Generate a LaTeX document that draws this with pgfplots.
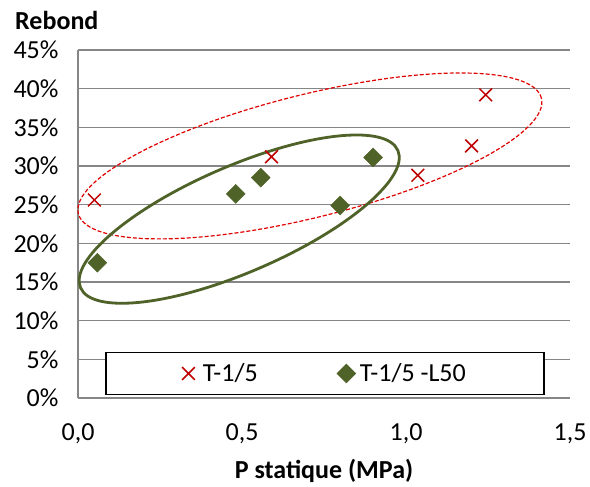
\documentclass[border=0pt]{standalone}
\usepackage{fontspec}
\setmainfont{Carlito}
\usepackage{pgfplots}
\pgfplotsset{compat=1.18}
\definecolor{gridgray}{HTML}{868686}
\definecolor{xred}{HTML}{C00000}
\definecolor{olivegreen}{HTML}{4F6228}
\definecolor{dashred}{HTML}{E00000}
\newcommand{\chartfont}{\fontsize{26bp}{31bp}\selectfont}
\begin{document}
\begin{tikzpicture}
\useasboundingbox (0,0) rectangle (590bp,487bp);
\begin{axis}[
  at={(78bp,89bp)}, anchor=south west,
  scale only axis, width=492bp, height=348bp,
  xmin=0, xmax=1.5, ymin=0, ymax=45,
  xtick={0,0.5,1,1.5}, ytick={0,5,...,45},
  axis lines=left,
  axis line style={gridgray, line width=1.2bp, -},
  ymajorgrids, grid style={gridgray, line width=1.2bp},
  major tick length=0,
  clip=false,
  /pgf/number format/assume math mode=true,
  xticklabel style={font=\chartfont, yshift=-22bp, /pgf/number format/.cd, use comma, fixed, fixed zerofill, precision=1},
  yticklabel style={font=\chartfont, xshift=-16bp},
  yticklabel={\pgfmathprintnumber{\tick}\%},
  xlabel={\textbf{P statique (MPa)}},
  ylabel={\textbf{Rebond}},
  every axis x label/.style={at={(rel axis cs:0.5,0)}, anchor=base, yshift=-80bp, inner sep=0pt, font=\chartfont},
  every axis y label/.style={at={(rel axis cs:0,1)}, anchor=base west, xshift=-63bp, yshift=20bp, inner sep=0pt, font=\chartfont},
  legend columns=2,
  legend style={at={(rel axis cs:0.502,0.0704)}, anchor=center, draw=black, line width=1.3bp, fill=white,
    inner xsep=76bp, inner ysep=9bp, font=\chartfont,
    /tikz/every even column/.append style={column sep=77bp}},
]
\addplot[only marks, mark=x, mark size=9bp, draw=xred, line width=1.5bp, mark options={xred, line width=1.5bp}]
coordinates {(0.05,25.6) (0.59,31.2) (1.036,28.8) (1.20,32.6) (1.243,39.2)};
\addlegendentry{\hspace{6bp}T-1/5}
\addplot[only marks, mark=square*, mark size=6.7bp, mark options={rotate=45, fill=olivegreen, draw=olivegreen, line width=0.4bp}]
coordinates {(0.059,17.5) (0.481,26.4) (0.557,28.5) (0.799,24.9) (0.900,31.1)};
\addlegendentry{\hspace{2bp}T-1/5 -L50}
\draw[dashred, line width=1.2bp, dash pattern=on 4bp off 2bp, rotate around={14:(axis cs:0.707,31.3)}]
  (axis cs:0.707,31.3) ellipse [x radius=238.6bp, y radius=61.4bp];
\draw[olivegreen, line width=2.8bp, rotate around={23.4:(axis cs:0.4915,23.13)}]
  (axis cs:0.4915,23.13) ellipse [x radius=172.9bp, y radius=53bp];
\end{axis}
\end{tikzpicture}
\end{document}
